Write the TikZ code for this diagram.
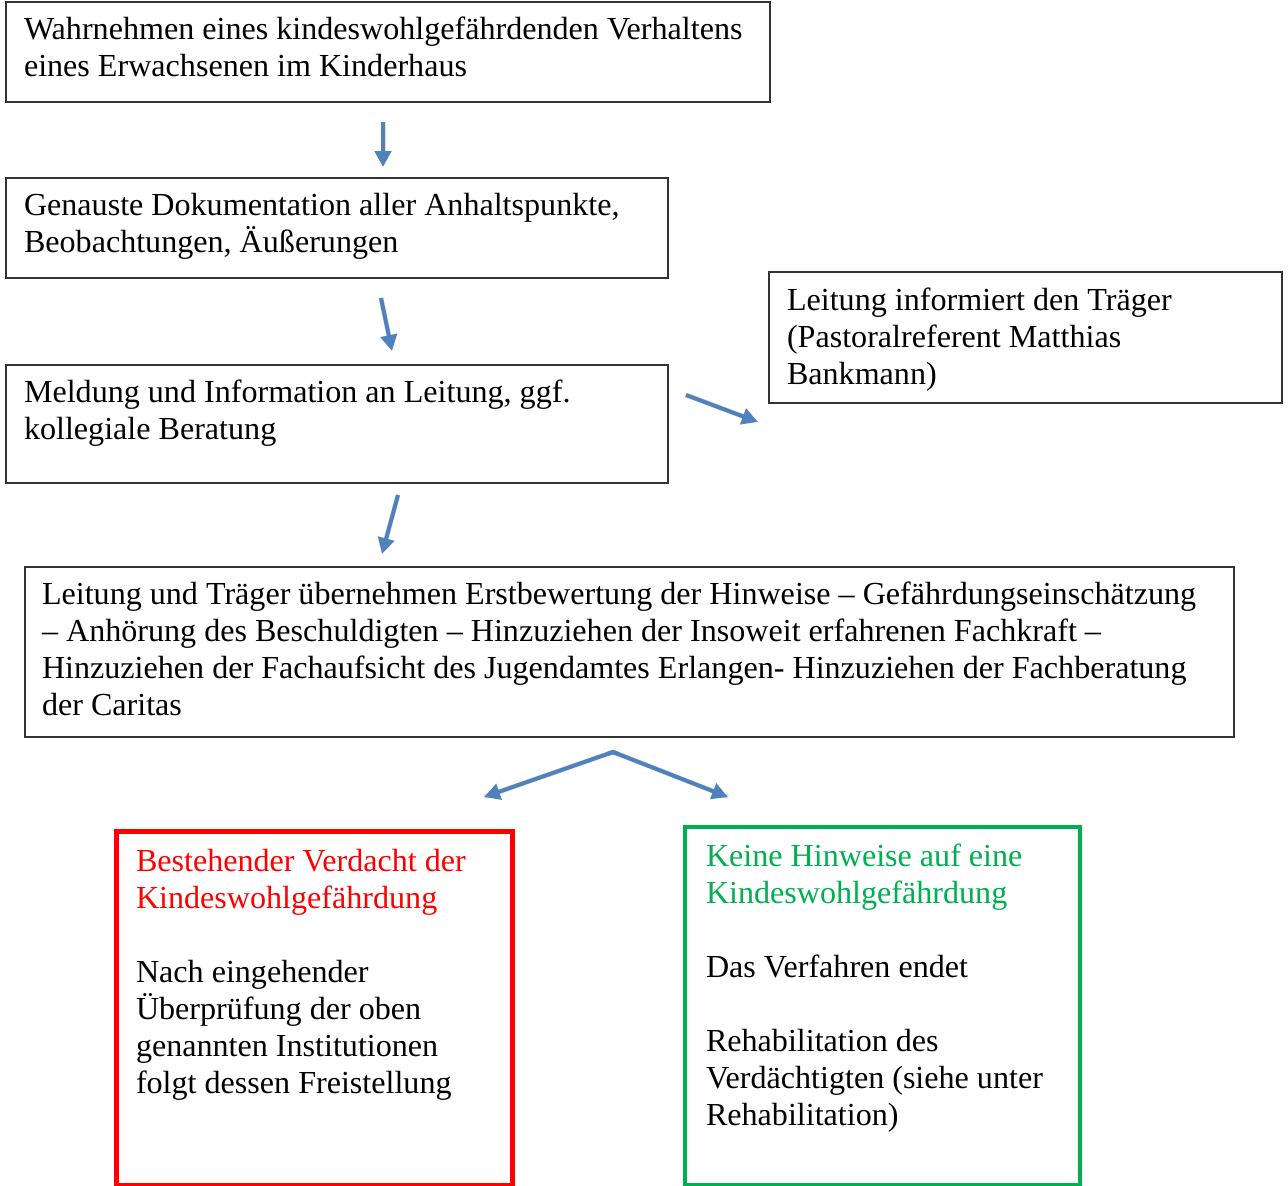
\documentclass[tikz,border=0pt]{standalone}
\usepackage{fontspec}
\setmainfont{Liberation Serif}
\usetikzlibrary{arrows.meta,calc}
\definecolor{arrowblue}{HTML}{4F81BD}
\definecolor{boxred}{HTML}{FF0000}
\definecolor{boxgreen}{HTML}{00B050}
\definecolor{boxline}{HTML}{333333}
\newcommand{\boxtext}[2]{\parbox[t]{#1}{\fontsize{32.1}{37}\selectfont\baselineskip=37pt\relax #2}}
\tikzset{
  plainbox/.style={draw=boxline, line width=1.3pt},
  redbox/.style={draw=boxred, line width=5pt},
  greenbox/.style={draw=boxgreen, line width=4pt},
  txt/.style={anchor=base west, inner sep=0pt, outer sep=0pt},
  flowarrow/.style={draw=arrowblue, line width=4pt, -{Triangle[width=16pt,length=16pt]}},
  shadowarrow/.style={draw=black, opacity=0.12, line width=5pt, -{Triangle[width=17pt,length=16pt]}},
  flowline/.style={draw=arrowblue, line width=4pt},
  shadowline/.style={draw=black, opacity=0.12, line width=5pt},
}
\begin{document}
\begin{tikzpicture}[x=1pt,y=-1pt]
\useasboundingbox (0,0) rectangle (1288,1186);
% boxes
\draw[plainbox] (6,2) rectangle (770,102) node[pos=0.5] (b1) {};
\draw[plainbox] (6,178) rectangle (668,278) node[pos=0.5] (b2) {};
\draw[plainbox] (6,365) rectangle (668,483) node[pos=0.5] (b3) {};
\draw[plainbox] (769,272) rectangle (1282,403) node[pos=0.5] (b3r) {};
\draw[plainbox] (25,567) rectangle (1234,737) node[pos=0.5] (b4) {};
\draw[redbox] (116,831) rectangle (512,1185) node[pos=0.5] (b5) {};
\draw[greenbox] (685,827) rectangle (1080,1185) node[pos=0.5] (b6) {};
% texts
\node[txt] (t1) at (24,39) {\boxtext{740pt}{Wahrnehmen eines kindeswohlgefährdenden Verhaltens\\eines Erwachsenen im Kinderhaus}};
\node[txt] (t2) at (24,215) {\boxtext{640pt}{Genauste Dokumentation aller Anhaltspunkte,\\Beobachtungen, Äußerungen}};
\node[txt] (t3) at (24,402) {\boxtext{640pt}{Meldung und Information an Leitung, ggf.\\kollegiale Beratung}};
\node[txt] (t3r) at (787,310) {\boxtext{490pt}{Leitung informiert den Träger\\(Pastoralreferent Matthias\\Bankmann)}};
\node[txt] (t4) at (42,604) {\boxtext{1190pt}{Leitung und Träger übernehmen Erstbewertung der Hinweise – Gefährdungseinschätzung\\– Anhörung des Beschuldigten – Hinzuziehen der Insoweit erfahrenen Fachkraft –\\Hinzuziehen der Fachaufsicht des Jugendamtes Erlangen- Hinzuziehen der Fachberatung\\der Caritas}};
\node[txt] (t5) at (136,871) {\boxtext{370pt}{\textcolor{boxred}{Bestehender Verdacht der\\Kindeswohlgefährdung}\\[37pt]Nach eingehender\\Überprüfung der oben\\genannten Institutionen\\folgt dessen Freistellung}};
\node[txt] (t6) at (706,866) {\boxtext{370pt}{\textcolor{boxgreen}{Keine Hinweise auf eine\\Kindeswohlgefährdung}\\[37pt]Das Verfahren endet\\[37pt]Rehabilitation des\\Verdächtigten (siehe unter\\Rehabilitation)}};
% arrow coordinates
\coordinate (a1s) at (383,122); \coordinate (a1e) at (383,167);
\coordinate (a2s) at (381,298); \coordinate (a2e) at (392,351);
\coordinate (a3s) at (686,395); \coordinate (a3e) at (758,422);
\coordinate (a4s) at (398,495); \coordinate (a4e) at (382,554);
\coordinate (a5m) at (613,752); \coordinate (a5l) at (484,797); \coordinate (a5r) at (728,797);
% shadows
\begin{scope}[shift={(2,3)}]
\draw[shadowarrow] (a1s) -- (a1e);
\draw[shadowarrow] (a2s) -- (a2e);
\draw[shadowarrow] (a3s) -- (a3e);
\draw[shadowarrow] (a4s) -- (a4e);
\draw[shadowline, line join=miter] (a5l) -- (a5m) -- (a5r);
\end{scope}
% arrows
\draw[flowarrow] (a1s) -- (a1e);
\draw[flowarrow] (a2s) -- (a2e);
\draw[flowarrow] (a3s) -- (a3e);
\draw[flowarrow] (a4s) -- (a4e);
\draw[flowarrow] (a5m) -- (a5l);
\draw[flowarrow] (a5m) -- (a5r);
\draw[flowline, line join=miter] ($(a5m)!6pt!(a5l)$) -- (a5m) -- ($(a5m)!6pt!(a5r)$);
\end{tikzpicture}
\end{document}
